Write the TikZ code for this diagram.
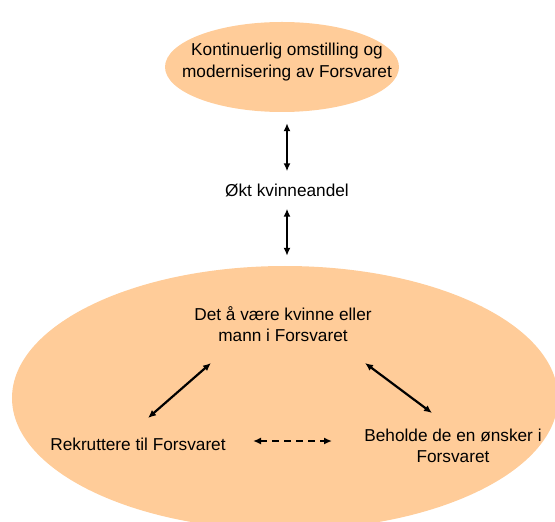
\documentclass[tikz,border=0pt]{standalone}
\usepackage{fontspec}
\setmainfont{Liberation Sans}
\usetikzlibrary{shapes.geometric,arrows.meta}
\definecolor{peach}{HTML}{FFCC99}
\begin{document}
\begin{tikzpicture}[x=1bp,y=-1bp,
  txt/.style={font=\fontsize{17.3}{21.3}\selectfont, align=center, inner sep=0pt},
  blob/.style={ellipse, fill=peach, draw=none, inner sep=0pt},
  twoway/.style={{Latex[length=8bp,width=7bp]}-{Latex[length=8bp,width=7bp]}, line width=2.2bp},
  dashway/.style={twoway, dash pattern=on 7bp off 5bp},
]
\useasboundingbox (0,0) rectangle (555,522);
% shapes
\node[blob, minimum width=546bp, minimum height=264bp] (base) at (285,398) {};
\node[blob, minimum width=234bp, minimum height=90bp] (top) at (282,67) {};
% texts
\node[txt] (toptxt) at (287,62) {Kontinuerlig omstilling og\\modernisering av Forsvaret};
\node[txt] (okt) at (287,190) {Økt kvinneandel};
\node[txt] (det) at (283,324) {Det å være kvinne eller\\mann i Forsvaret};
\node[txt] (rek) at (138,444) {Rekruttere til Forsvaret};
\node[txt] (beh) at (453,446) {Beholde de en ønsker i\\Forsvaret};
% connector end points
\coordinate (l1) at (211,363);
\coordinate (l2) at (148,418);
\coordinate (r1) at (365,363);
\coordinate (r2) at (432,413);
\coordinate (d1) at (253,441);
\coordinate (d2) at (332,441);
% connectors
\draw[twoway, shorten <=11bp, shorten >=12bp] (top.south -| okt) -- (okt.north);
\draw[twoway, shorten <=12bp, shorten >=10bp] (okt.south) -- (okt.south |- base.north);
\draw[twoway] (l1) -- (l2);
\draw[twoway] (r1) -- (r2);
\draw[dashway] (d1) -- (d2);
\end{tikzpicture}
\end{document}
